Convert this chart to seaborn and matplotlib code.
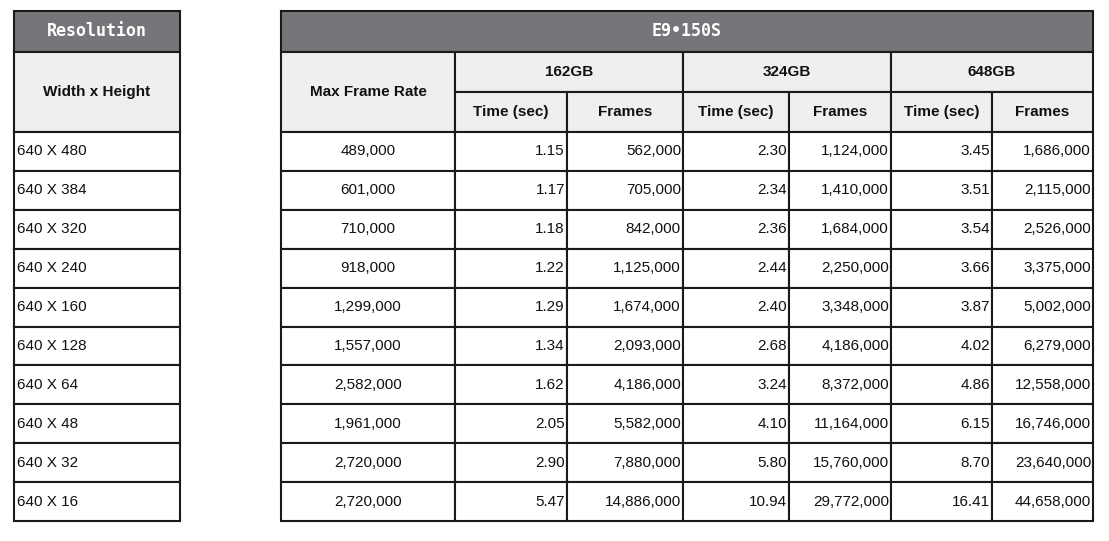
import matplotlib
matplotlib.use("Agg")
import matplotlib.pyplot as plt
import seaborn as sns

sns.set_theme(style="white")

resolutions = ["640 X 480", "640 X 384", "640 X 320", "640 X 240", "640 X 160",
               "640 X 128", "640 X 64", "640 X 48", "640 X 32", "640 X 16"]
max_rate = ["489,000", "601,000", "710,000", "918,000", "1,299,000",
            "1,557,000", "2,582,000", "1,961,000", "2,720,000", "2,720,000"]
t162 = ["1.15", "1.17", "1.18", "1.22", "1.29", "1.34", "1.62", "2.05", "2.90", "5.47"]
f162 = ["562,000", "705,000", "842,000", "1,125,000", "1,674,000",
        "2,093,000", "4,186,000", "5,582,000", "7,880,000", "14,886,000"]
t324 = ["2.30", "2.34", "2.36", "2.44", "2.40", "2.68", "3.24", "4.10", "5.80", "10.94"]
f324 = ["1,124,000", "1,410,000", "1,684,000", "2,250,000", "3,348,000",
        "4,186,000", "8,372,000", "11,164,000", "15,760,000", "29,772,000"]
t648 = ["3.45", "3.51", "3.54", "3.66", "3.87", "4.02", "4.86", "6.15", "8.70", "16.41"]
f648 = ["1,686,000", "2,115,000", "2,526,000", "3,375,000", "5,002,000",
        "6,279,000", "12,558,000", "16,746,000", "23,640,000", "44,658,000"]
capacities = ["162GB", "324GB", "648GB"]

DARK = "#757679"
LIGHT = "#efefef"
body_font = "Liberation Sans"
FS = 11

fig = plt.figure(figsize=(11.09, 5.41), dpi=100)
ax = fig.add_axes([0, 0, 1, 1])
ax.set_xlim(0, 1109)
ax.set_ylim(541, 0)
ax.axis("off")


def cell(x0, x1, y0, y1, fill="white", text=None, ha="center", **kw):
    ax.add_patch(plt.Rectangle((x0, y0), x1 - x0, y1 - y0, facecolor=fill,
                               edgecolor="#1a1a1a", linewidth=1.5))
    if text is not None:
        if ha == "center":
            tx = (x0 + x1) / 2
        elif ha == "right":
            tx = x1 - 2
        else:
            tx = x0 + 3
        ax.text(tx, (y0 + y1) / 2, text, ha=ha, va="center", **kw)


body = dict(fontsize=FS, family=body_font, color="#111111")
head = dict(fontsize=FS, family=body_font, color="#111111", fontweight="bold")
mono = dict(fontsize=12, family="DejaVu Sans Mono", color="white", fontweight="bold")

# left table
cell(14, 180, 11, 52, DARK, "Resolution", **mono)
cell(14, 180, 52, 132, LIGHT, "Width x Height", **head)
row_h = (521 - 132) / len(resolutions)
for i, r in enumerate(resolutions):
    y0 = 132 + i * row_h
    cell(14, 180, y0, y0 + row_h, "white", r, ha="left", **body)

# right table
cols = [281, 455, 567, 683, 789, 891, 992, 1093]
cell(281, 1093, 11, 52, DARK, "E9\u2022150S", **mono)
cell(281, 455, 52, 132, LIGHT, "Max Frame Rate", **head)
for k, cap in enumerate(capacities):
    a, b, c = cols[1 + 2 * k], cols[2 + 2 * k], cols[3 + 2 * k]
    cell(a, c, 52, 92, LIGHT, cap, **head)
    cell(a, b, 92, 132, LIGHT, "Time (sec)", **head)
    cell(b, c, 92, 132, LIGHT, "Frames", **head)

data_cols = [t162, f162, t324, f324, t648, f648]
for i in range(len(resolutions)):
    y0 = 132 + i * row_h
    cell(281, 455, y0, y0 + row_h, "white", max_rate[i], **body)
    for j, col in enumerate(data_cols):
        cell(cols[1 + j], cols[2 + j], y0, y0 + row_h, "white", col[i], ha="right", **body)

fig.savefig("out.png", dpi=100)
